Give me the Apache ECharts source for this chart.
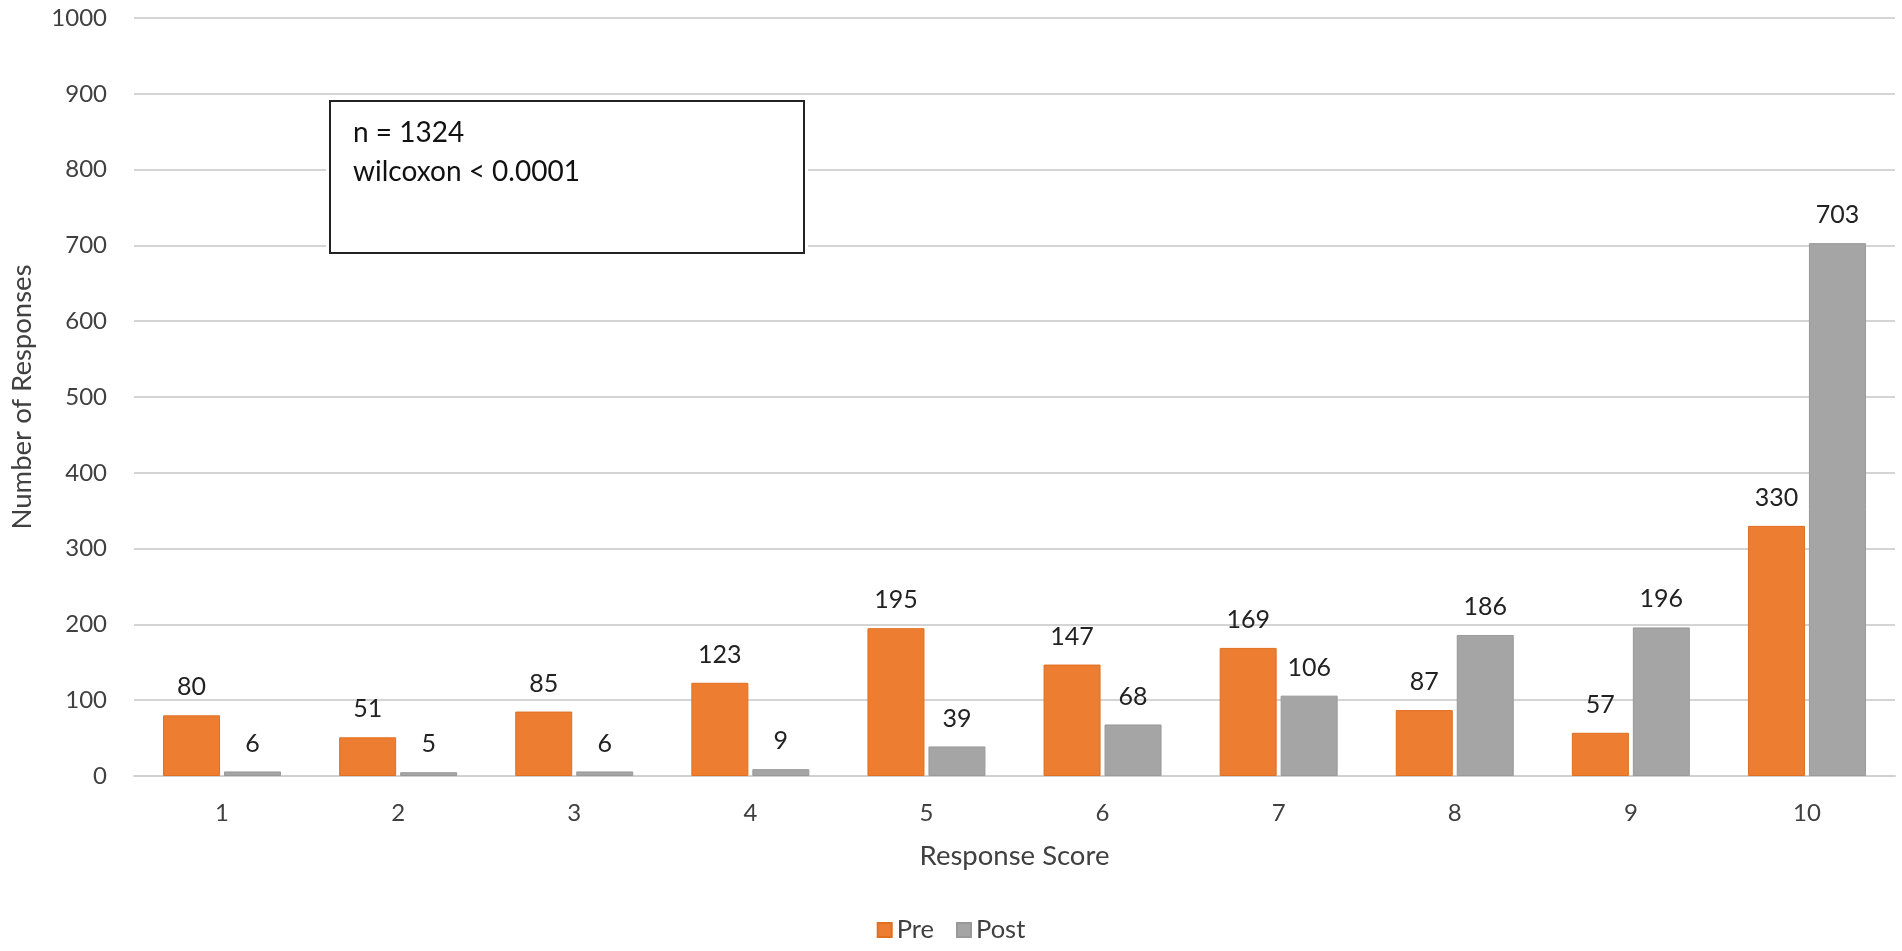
<!DOCTYPE html>
<html>
<head>
<meta charset="utf-8">
<script src="https://cdn.jsdelivr.net/npm/echarts@6/dist/echarts.min.js"></script>
<style>
html,body{margin:0;padding:0;background:#fff;}
#chart{width:1902px;height:951px;}
</style>
</head>
<body>
<div id="chart"></div>
<script>
const categories = ['1','2','3','4','5','6','7','8','9','10'];
const preValues = [80, 51, 85, 123, 195, 147, 169, 87, 57, 330];
const postValues = [6, 5, 6, 9, 39, 68, 106, 186, 196, 703];
const seriesNames = ['Pre', 'Post'];
const annotationLines = ['n = 1324', 'wilcoxon < 0.0001'];

const FONT = 'Lato';
const TXT = '#404040';

const chart = echarts.init(document.getElementById('chart'), null, {renderer: 'canvas'});
chart.setOption({
  animation: false,
  backgroundColor: '#ffffff',
  textStyle: {fontFamily: FONT},
  grid: {left: 127, right: 7, top: 18, bottom: 175, containLabel: false},
  legend: {
    data: seriesNames,
    bottom: 3,
    left: 'center',
    itemWidth: 14,
    itemHeight: 14,
    itemGap: 22,
    icon: 'rect',
    textStyle: {fontFamily: FONT, fontSize: 25.5, color: TXT}
  },
  xAxis: {
    type: 'category',
    data: categories,
    name: 'Response Score',
    nameLocation: 'middle',
    nameGap: 66,
    nameTextStyle: {fontFamily: FONT, fontSize: 27.5, color: TXT},
    axisLine: {show: true, lineStyle: {color: '#d0d0d0', width: 2}},
    axisTick: {show: false},
    axisLabel: {fontFamily: FONT, fontSize: 24, color: TXT, margin: 25}
  },
  yAxis: {
    type: 'value',
    min: 0,
    max: 1000,
    interval: 100,
    name: 'Number of Responses',
    nameLocation: 'middle',
    nameGap: 98,
    nameTextStyle: {fontFamily: FONT, fontSize: 27.5, color: TXT},
    axisLine: {show: false},
    axisTick: {show: false},
    axisLabel: {fontFamily: FONT, fontSize: 24, color: TXT, margin: 27, formatter: function (v) { return String(v); }},
    splitLine: {lineStyle: {color: '#d4d4d4', width: 2}}
  },
  series: [
    {
      name: seriesNames[0],
      type: 'bar',
      data: preValues,
      barGap: '7%',
      barCategoryGap: '33%',
      itemStyle: {color: '#ED7D31', borderColor: '#E06F20', borderWidth: 1},
      label: {show: true, position: 'top', distance: 15, fontFamily: FONT, fontSize: 25, color: '#222', lineHeight: 26}
    },
    {
      name: seriesNames[1],
      type: 'bar',
      data: postValues,
      itemStyle: {color: '#A5A5A5', borderColor: '#999999', borderWidth: 1},
      label: {show: true, position: 'top', distance: 15, fontFamily: FONT, fontSize: 25, color: '#222', lineHeight: 26}
    }
  ],
  graphic: [
    {
      type: 'group',
      left: 326,
      top: 97,
      z: 100,
      children: [
        {
          type: 'rect',
          z: 100,
          shape: {x: 0, y: 0, width: 482, height: 160},
          style: {fill: '#ffffff', stroke: null}
        },
        {
          type: 'rect',
          z: 101,
          shape: {x: 4, y: 4, width: 474, height: 152},
          style: {fill: '#ffffff', stroke: '#222222', lineWidth: 2}
        },
        {
          type: 'text',
          z: 102,
          x: 27,
          y: 16,
          style: {
            text: annotationLines.join('\n'),
            fontFamily: FONT,
            fontSize: 28,
            lineHeight: 39,
            fill: '#111'
          }
        }
      ]
    }
  ]
});
</script>
</body>
</html>
